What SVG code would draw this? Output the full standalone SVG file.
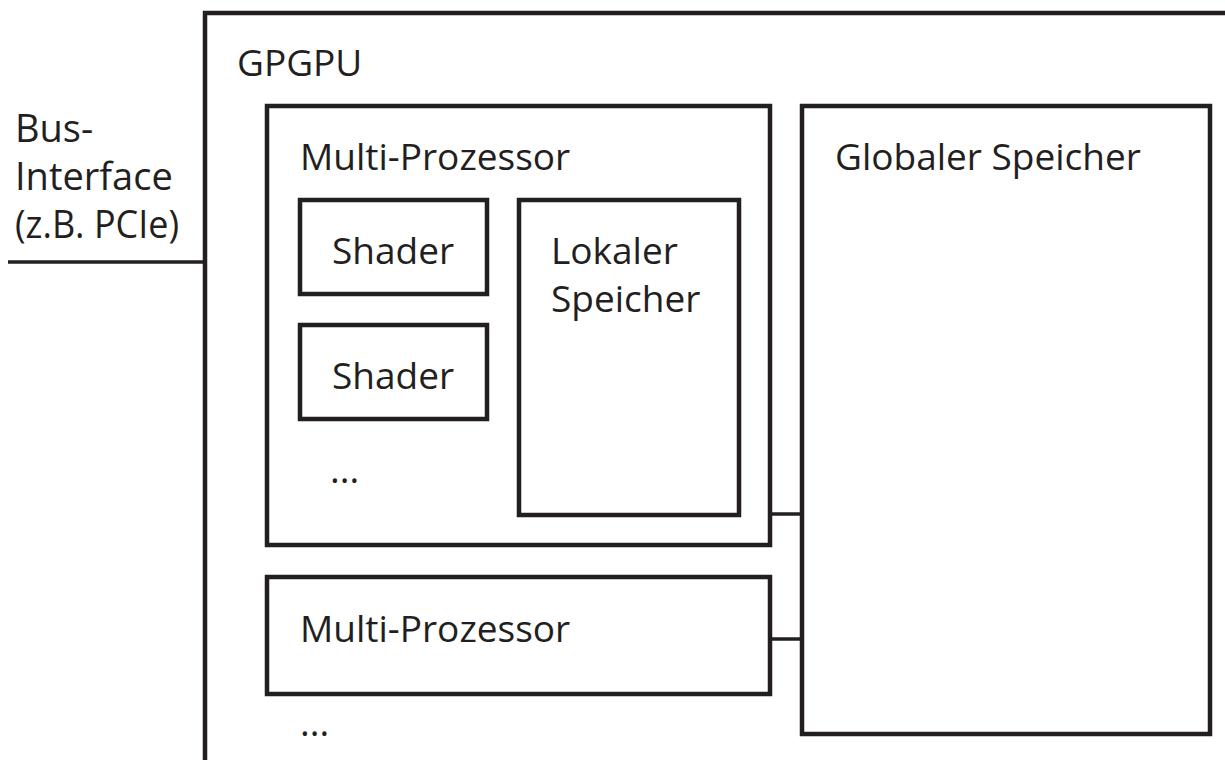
<svg xmlns="http://www.w3.org/2000/svg" width="1225" height="760" viewBox="0 0 1225 760">
  <style>
    .box { fill: none; stroke: #231f20; stroke-width: 4.5; }
    .wire { fill: none; stroke: #231f20; stroke-width: 3.5; }
    text { font-family: "Open Sans", "Liberation Sans", sans-serif; font-size: 37px; fill: #231f20; }
    .side { font-size: 38px; }
  </style>
  <rect width="1225" height="760" fill="#ffffff"/>

  <!-- GPGPU enclosure (runs off the right and bottom edges) -->
  <g id="gpgpu">
    <path class="box" d="M205,760 V13 H1225"/>
    <text x="237" y="76">GPGPU</text>
  </g>

  <!-- Host bus label -->
  <g id="bus-interface">
    <text class="side" x="15" y="142">Bus-</text>
    <text class="side" x="15" y="190">Interface</text>
    <text class="side" x="15" y="238" textLength="164" lengthAdjust="spacingAndGlyphs">(z.B. PCIe)</text>
  </g>

  <!-- First multiprocessor with its shaders and local memory -->
  <g id="multiprozessor-1">
    <rect class="box" x="267" y="106" width="503" height="439"/>
    <text x="300" y="170">Multi-Prozessor</text>
  </g>
  <g id="shader-1">
    <rect class="box" x="300" y="200" width="187" height="94"/>
    <text x="332" y="264">Shader</text>
  </g>
  <g id="shader-2">
    <rect class="box" x="300" y="325" width="187" height="94"/>
    <text x="332" y="389">Shader</text>
  </g>
  <g id="shader-more">
    <text x="330" y="483">...</text>
  </g>
  <g id="lokaler-speicher">
    <rect class="box" x="519" y="200" width="220" height="315"/>
    <text x="551" y="264">Lokaler</text>
    <text x="551" y="312">Speicher</text>
  </g>

  <!-- Second multiprocessor -->
  <g id="multiprozessor-2">
    <rect class="box" x="267" y="577" width="503" height="117"/>
    <text x="300" y="642">Multi-Prozessor</text>
  </g>
  <g id="multiprozessor-more">
    <text x="300" y="736">...</text>
  </g>

  <!-- Global memory -->
  <g id="globaler-speicher">
    <rect class="box" x="802" y="106" width="408" height="628"/>
    <text x="835" y="170">Globaler Speicher</text>
  </g>

  <!-- Connectors -->
  <g id="connectors">
    <line class="wire" x1="8" y1="262" x2="205" y2="262"/>
    <line class="wire" x1="770" y1="514" x2="802" y2="514"/>
    <line class="wire" x1="770" y1="639" x2="802" y2="639"/>
  </g>
</svg>
